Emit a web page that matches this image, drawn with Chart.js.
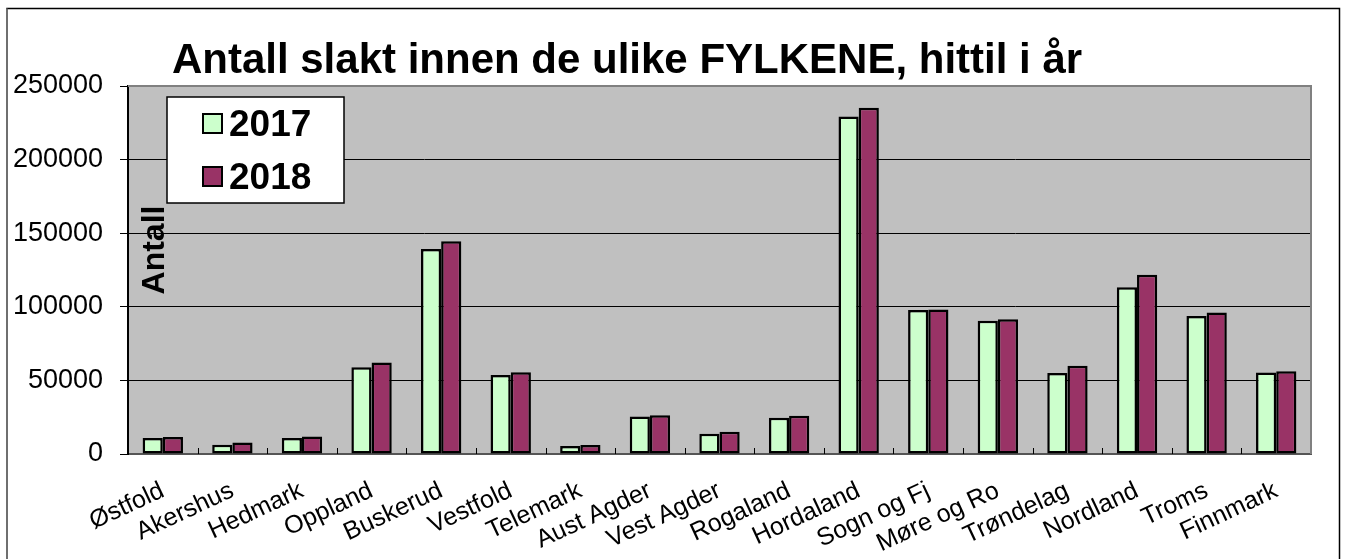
<!DOCTYPE html>
<html>
<head>
<meta charset="utf-8">
<script src="https://cdn.jsdelivr.net/npm/chart.js@4.4.1/dist/chart.umd.min.js"></script>
<style>
  body { margin: 0; background: #ffffff; }
  #wrap { width: 1346px; height: 559px; }
</style>
</head>
<body>
<div id="wrap"><canvas id="chart" width="1346" height="559"></canvas></div>
<script>
// =======================
// DATA
// =======================
const fylker = [
    "Østfold", "Akershus", "Hedmark", "Oppland", "Buskerud", "Vestfold",
    "Telemark", "Aust Agder", "Vest Agder", "Rogaland", "Hordaland",
    "Sogn og Fj", "Møre og Ro", "Trøndelag", "Nordland", "Troms", "Finnmark"
];
const slakt2017 = [10800, 6300, 10800, 59000, 139300, 53600, 5400, 25500, 13800, 24600,
                   229200, 97800, 90500, 55000, 113200, 93700, 55400];
const slakt2018 = [11500, 7800, 11900, 62200, 144500, 55600, 6100, 26400, 15100, 26000,
                   235300, 98200, 91600, 60000, 121800, 96200, 56300];
const yTicks = [0, 50000, 100000, 150000, 200000, 250000];

const titleText = "Antall slakt innen de ulike FYLKENE, hittil i år";
const yTitle = "Antall";

const col2017 = "#CCFFCC";
const col2018 = "#993366";

// =======================
// DECORATION PLUGIN
// =======================
const decor = {
    id: "decor",
    beforeDraw(chart) {
        const c = chart.ctx;
        c.save();
        c.fillStyle = "#ffffff";
        c.fillRect(0, 0, chart.width, chart.height);
        // outer frame
        c.strokeStyle = "#000000";
        c.lineWidth = 1.5;
        c.beginPath();
        c.moveTo(7, 559);
        c.lineTo(7, 8.5);
        c.lineTo(1339.5, 8.5);
        c.lineTo(1339.5, 559);
        c.stroke();
        c.strokeStyle = "#808080";
        c.beginPath();
        c.moveTo(7, 559);
        c.lineTo(7, 8.5);
        c.stroke();
        // plot background
        const a = chart.chartArea;
        c.fillStyle = "#C0C0C0";
        c.fillRect(a.left, a.top, a.right - a.left, a.bottom - a.top);
        c.restore();
    },
    afterDatasetsDraw(chart) {
        const c = chart.ctx;
        const a = chart.chartArea;
        c.save();
        // plot frame top/right
        c.strokeStyle = "#808080";
        c.lineWidth = 2;
        c.beginPath();
        c.moveTo(a.left, a.top);
        c.lineTo(a.right, a.top);
        c.lineTo(a.right, a.bottom);
        c.stroke();
        // small category ticks inside
        const w = (a.right - a.left) / fylker.length;
        c.strokeStyle = "#000000";
        c.lineWidth = 1;
        for (let i = 1; i < fylker.length; i++) {
            const x = Math.round(a.left + i * w) + 0.5;
            c.beginPath();
            c.moveTo(x, a.bottom);
            c.lineTo(x, a.bottom - 6);
            c.stroke();
        }
        // title
        c.fillStyle = "#000000";
        c.font = "bold 42px 'Liberation Sans', Arial, sans-serif";
        c.textAlign = "center";
        c.textBaseline = "alphabetic";
        c.fillText(titleText, 627, 73);
        // y axis title inside plot
        c.save();
        c.translate(164, 250);
        c.rotate(-Math.PI / 2);
        c.font = "bold 32px 'Liberation Sans', Arial, sans-serif";
        c.textAlign = "center";
        c.textBaseline = "alphabetic";
        c.fillText(yTitle, 0, 0);
        c.restore();
        // legend
        c.fillStyle = "#ffffff";
        c.fillRect(167, 97, 177, 106);
        c.strokeStyle = "#000000";
        c.lineWidth = 1.5;
        c.strokeRect(167, 97, 177, 106);
        const items = [["2017", col2017, 114], ["2018", col2018, 167]];
        items.forEach(([txt, col, y]) => {
            c.fillStyle = col;
            c.fillRect(203, y, 19, 19);
            c.lineWidth = 2;
            c.strokeRect(203, y, 19, 19);
            c.fillStyle = "#000000";
            c.font = "bold 37px 'Liberation Sans', Arial, sans-serif";
            c.textAlign = "left";
            c.fillText(txt, 229, y + 22);
        });
        c.restore();
    }
};

// =======================
// CHART
// =======================
new Chart(document.getElementById("chart"), {
    type: "bar",
    data: {
        labels: fylker,
        datasets: [{
            label: "2017",
            data: slakt2017,
            backgroundColor: col2017,
            borderColor: "#000000",
            borderWidth: 2.5,
            borderSkipped: false,
            categoryPercentage: 0.58,
            barPercentage: 1.0
        }, {
            label: "2018",
            data: slakt2018,
            backgroundColor: col2018,
            borderColor: "#000000",
            borderWidth: 2.5,
            borderSkipped: false,
            categoryPercentage: 0.58,
            barPercentage: 1.0
        }]
    },
    options: {
        responsive: false,
        animation: false,
        layout: { padding: { top: 86, right: 35, left: 0, bottom: 0 } },
        plugins: {
            legend: { display: false },
            title: { display: false },
            tooltip: { enabled: false }
        },
        scales: {
            x: {
                grid: { display: false },
                border: { color: "#555555", width: 2 },
                ticks: {
                    color: "#000000",
                    font: { size: 25, family: "'Liberation Sans', Arial, sans-serif" },
                    minRotation: 25,
                    maxRotation: 25,
                    autoSkip: false,
                    padding: 14
                },
                afterFit(scale) { scale.height = 105; }
            },
            y: {
                min: 0,
                max: 250000,
                afterBuildTicks(scale) {
                    scale.ticks = yTicks.map(v => ({ value: v }));
                },
                grid: {
                    color: "#000000",
                    lineWidth: 1,
                    tickColor: "#000000",
                    tickLength: 8,
                    drawTicks: true
                },
                border: { color: "#000000", width: 2 },
                ticks: {
                    color: "#000000",
                    padding: 17,
                    font: { size: 27, family: "'Liberation Sans', Arial, sans-serif" },
                    callback: v => String(v)
                },
                afterFit(scale) { scale.width = 128; }
            }
        }
    },
    plugins: [decor]
});
</script>
</body>
</html>
